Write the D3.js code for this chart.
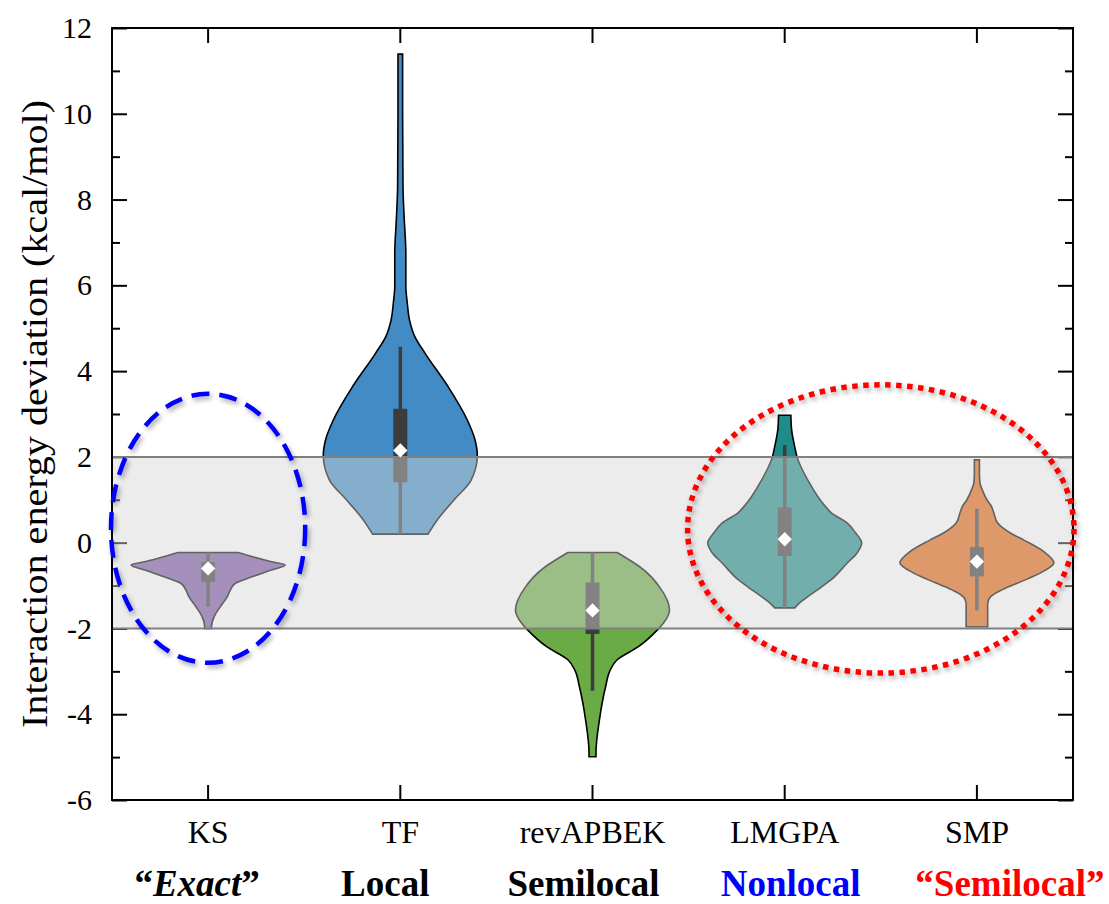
<!DOCTYPE html>
<html>
<head>
<meta charset="utf-8">
<script src="https://cdn.jsdelivr.net/npm/d3@7"></script>
<style>
  body { margin: 0; background: #fff; }
  text { font-family: "Liberation Serif", "Times New Roman", serif; }
</style>
</head>
<body>
<div id="chart"></div>
<script>
// categories and group names
const categories = ["KS", "TF", "revAPBEK", "LMGPA", "SMP"];
const groupNames = ["Exact", "Local", "Semilocal", "Nonlocal", "Semilocal"];
const groupQuoted = [true, false, false, false, true];
const groupColors = ["#000", "#000", "#000", "#0000ff", "#ff0000"];
const violinColors = ["#7b56a4", "#428bc4", "#6aab45", "#1f8c89", "#e3670e"];

// violin profiles: [value, relative density]
const ksProfile = [[-0.23, .39], [-0.33, .58], [-0.44, .81], [-0.52, 1.0], [-0.64, .82], [-0.79, .58],
  [-0.94, .36], [-1.1, .29], [-1.26, .25], [-1.49, .16], [-1.72, .08], [-1.95, .045], [-2.0, .045]];
const tfProfile = [[0.2, .36], [0.53, .48], [1.0, .70], [1.46, .92], [2.04, 1.0], [2.4, .97], [2.86, .87],
  [3.64, .62], [4.42, .32], [4.8, .19], [5.19, .12], [5.6, .09], [5.97, .072], [6.75, .072], [7.52, .052],
  [8.3, .035], [10.0, .03], [11.39, .03]];
const revProfile = [[-0.23, .32], [-0.64, .67], [-1.03, .87], [-1.57, 1.0], [-1.88, .92], [-2.04, .84],
  [-2.42, .60], [-2.73, .32], [-2.97, .23], [-3.36, .17], [-4.13, .09], [-4.9, .045], [-4.99, .045]];
const lmgpaProfile = [[-1.52, .13], [-1.41, .19], [-1.26, .30], [-1.03, .48], [-0.87, .60], [-0.48, .81],
  [-0.24, .94], [-0.01, 1.0], [0.23, .92], [0.46, .81], [0.69, .61], [0.84, .53], [1.46, .30], [2.0, .16],
  [2.24, .13], [2.63, .09], [2.97, .08]];
const smpProfile = [[-1.96, .14], [-1.64, .14], [-1.45, .14], [-1.34, .15], [-1.2, .22], [-1.03, .41],
  [-0.85, .65], [-0.71, .82], [-0.47, 1.0], [-0.21, .87], [0.06, .61], [0.22, .44], [0.46, .27], [0.69, .22],
  [0.84, .19], [1.0, .13], [1.23, .07], [1.39, .04], [1.6, .033], [1.93, .033]];
const profiles = [ksProfile, tfProfile, revProfile, lmgpaProfile, smpProfile];

// box statistics
const q1 = [-0.92, 1.41, -2.13, -0.31, -0.79];
const q3 = [-0.45, 3.12, -0.93, 0.82, -0.10];
const whiskerLow = [-1.50, 0.20, -3.45, -1.52, -1.58];
const whiskerHigh = [-0.23, 4.57, -0.23, 2.28, 0.79];
const means = [-0.60, 2.15, -1.58, 0.08, -0.44];

// acceptable band and highlighted groups
const bandLimits = [-2, 2];
const yTicks = [-6, -4, -2, 0, 2, 4, 6, 8, 10, 12];
const yMinorTicks = [-5, -3, -1, 1, 3, 5, 7, 9, 11];
const highlights = [
  { from: "KS", to: "KS", top: 3.47, bottom: -2.80, color: "#0000ff", dash: "18 10", width: 4.5 },
  { from: "LMGPA", to: "SMP", top: 3.68, bottom: -3.04, color: "#ff0000", dash: "5.5 5.5", width: 5.5 }
];

const W = 1109, H = 904;
const margin = { top: 28, right: 36, bottom: 104, left: 112 };

const svg = d3.select("#chart").append("svg")
  .attr("width", W).attr("height", H);

const defs = svg.append("defs");
const shadow = defs.append("filter").attr("id", "shadow")
  .attr("x", "-10%").attr("y", "-10%").attr("width", "120%").attr("height", "120%");
shadow.append("feDropShadow")
  .attr("dx", 2).attr("dy", 3).attr("stdDeviation", 2.5)
  .attr("flood-color", "#000").attr("flood-opacity", 0.35);

const x = d3.scaleBand().domain(categories).range([margin.left, W - margin.right]);
const y = d3.scaleLinear().domain([-6, 12]).range([H - margin.bottom, margin.top]);
const halfW = d3.scaleLinear().domain([0, 1]).range([0, 77]);
const cx = c => x(c) + x.bandwidth() / 2;

const x0 = margin.left, x1 = W - margin.right;
const y0 = margin.top, y1 = H - margin.bottom;

// ticks (drawn first so the band shades them)
function styleAxis(g) {
  g.select(".domain").remove();
  g.selectAll(".tick line").attr("stroke", "#000").attr("stroke-width", 2);
  g.selectAll("text").style("font-size", "30px").attr("fill", "#000");
}
svg.append("g").attr("transform", `translate(${x0},0)`)
  .call(d3.axisLeft(y).tickValues(yTicks).tickSize(-15).tickPadding(20).tickFormat(d3.format("d")))
  .call(styleAxis)
  .selectAll("text").text(d => String(d));
svg.append("g").attr("transform", `translate(${x0},0)`)
  .call(d3.axisLeft(y).tickValues(yMinorTicks).tickSize(-8).tickFormat(""))
  .call(styleAxis);
svg.append("g").attr("transform", `translate(${x1},0)`)
  .call(d3.axisRight(y).tickValues(yTicks).tickSize(-15).tickFormat(""))
  .call(styleAxis);
svg.append("g").attr("transform", `translate(${x1},0)`)
  .call(d3.axisRight(y).tickValues(yMinorTicks).tickSize(-8).tickFormat(""))
  .call(styleAxis);
svg.append("g").attr("transform", `translate(0,${y0})`)
  .call(d3.axisTop(x).tickSize(-15).tickFormat(""))
  .call(styleAxis);
svg.append("g").attr("transform", `translate(0,${y1})`)
  .call(d3.axisBottom(x).tickSize(-15).tickPadding(20))
  .call(styleAxis)
  .selectAll("text").style("font-size", "32px");

// violins
const violin = c => d3.area()
  .curve(d3.curveMonotoneY)
  .y(d => y(d[0]))
  .x0(d => cx(c) - halfW(d[1]))
  .x1(d => cx(c) + halfW(d[1]));

svg.append("g").selectAll("path")
  .data(categories)
  .join("path")
  .attr("d", (c, i) => violin(c)(profiles[i].slice().sort((a, b) => b[0] - a[0])))
  .attr("fill", (c, i) => violinColors[i])
  .attr("stroke", "#000")
  .attr("stroke-width", 1.6);

// whiskers and boxes
svg.append("g").selectAll("line")
  .data(categories)
  .join("line")
  .attr("x1", c => cx(c)).attr("x2", c => cx(c))
  .attr("y1", (c, i) => y(whiskerLow[i])).attr("y2", (c, i) => y(whiskerHigh[i]))
  .attr("stroke", "#3c3c3c").attr("stroke-width", 3.5);

svg.append("g").selectAll("rect")
  .data(categories)
  .join("rect")
  .attr("x", c => cx(c) - 7).attr("width", 14)
  .attr("y", (c, i) => y(q3[i])).attr("height", (c, i) => y(q1[i]) - y(q3[i]))
  .attr("rx", 1)
  .attr("fill", "#3c3c3c");

// shaded +-2 kcal/mol band on top
svg.append("rect")
  .attr("x", x0).attr("width", x1 - x0)
  .attr("y", y(bandLimits[1])).attr("height", y(bandLimits[0]) - y(bandLimits[1]))
  .attr("fill", "#d6d6d6").attr("fill-opacity", 0.46);
svg.append("g").selectAll("line")
  .data(bandLimits)
  .join("line")
  .attr("x1", x0).attr("x2", x1)
  .attr("y1", d => y(d)).attr("y2", d => y(d))
  .attr("stroke", "#808080").attr("stroke-width", 2);

// mean markers
svg.append("g").selectAll("path")
  .data(categories)
  .join("path")
  .attr("d", d3.symbol(d3.symbolDiamond2, 130))
  .attr("transform", (c, i) => `translate(${cx(c)},${y(means[i])})`)
  .attr("fill", "#fff");

// frame
svg.append("rect")
  .attr("x", x0).attr("y", y0).attr("width", x1 - x0).attr("height", y1 - y0)
  .attr("fill", "none").attr("stroke", "#000").attr("stroke-width", 2);

// highlight ellipses
svg.append("g").selectAll("ellipse")
  .data(highlights)
  .join("ellipse")
  .attr("cx", d => (x(d.from) + x(d.to) + x.bandwidth()) / 2)
  .attr("cy", d => (y(d.top) + y(d.bottom)) / 2)
  .attr("rx", d => (x(d.to) - x(d.from) + x.bandwidth()) / 2 + 1)
  .attr("ry", d => (y(d.bottom) - y(d.top)) / 2)
  .attr("fill", "none")
  .attr("stroke", d => d.color)
  .attr("stroke-width", d => d.width)
  .attr("stroke-dasharray", d => d.dash)
  .attr("filter", "url(#shadow)");

// y axis title
svg.append("text")
  .attr("transform", `translate(47,${(y0 + y1) / 2}) rotate(-90)`)
  .attr("text-anchor", "middle")
  .attr("textLength", 628)
  .attr("lengthAdjust", "spacingAndGlyphs")
  .style("font-size", "35px")
  .text("Interaction energy deviation (kcal/mol)");

// group labels under the categories
const groupShift = [-11, -15, -9, 6, 33];
const gl = svg.append("g").selectAll("text")
  .data(categories)
  .join("text")
  .attr("x", (c, i) => cx(c) + groupShift[i])
  .attr("y", 896)
  .attr("text-anchor", "middle")
  .attr("fill", (c, i) => groupColors[i])
  .style("font-size", "37px")
  .style("font-weight", "bold");
gl.each(function (c, i) {
  const t = d3.select(this);
  if (groupQuoted[i]) t.append("tspan").text("\u201C");
  t.append("tspan").style("font-style", i === 0 ? "italic" : "normal").text(groupNames[i]);
  if (groupQuoted[i]) t.append("tspan").text("\u201D");
});
</script>
</body>
</html>
